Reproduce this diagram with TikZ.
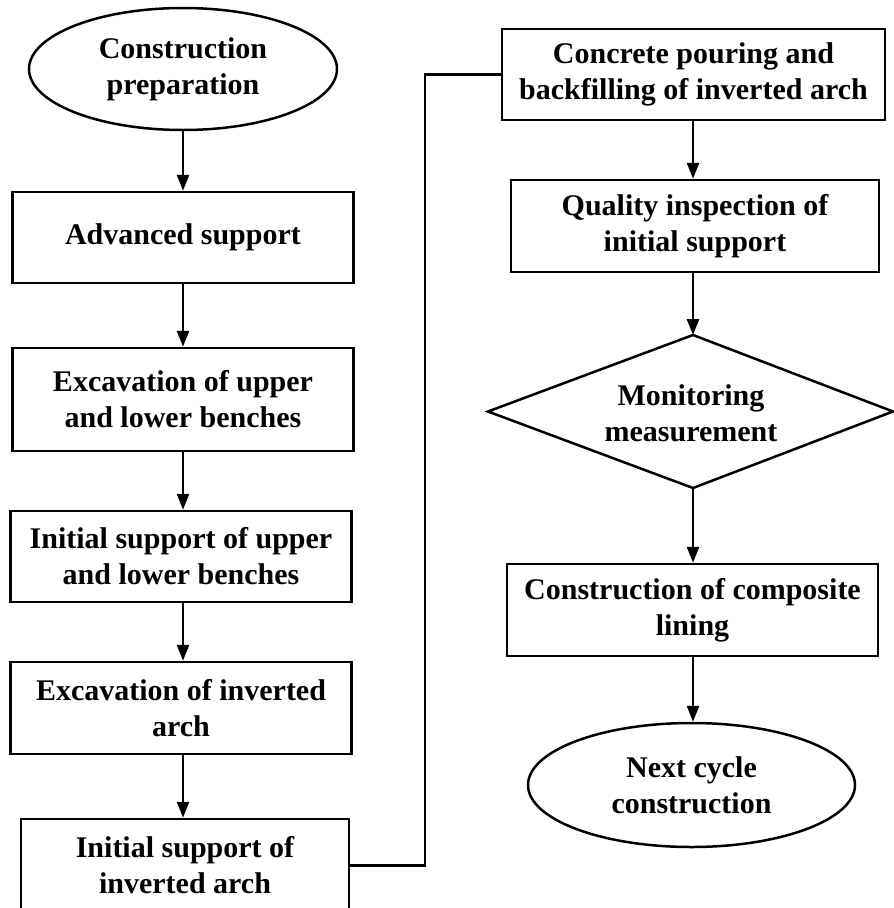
\documentclass[tikz,border=0pt]{standalone}
\usepackage{fontspec}
\setmainfont{Liberation Serif}
\usetikzlibrary{shapes.geometric,arrows.meta}
\begin{document}
\begin{tikzpicture}[x=1pt,y=-1pt,
  every node/.style={font=\bfseries\fontsize{30}{36}\selectfont, align=center, inner sep=0pt, line width=2.5pt},
  procbox/.style={rectangle, draw},
  termell/.style={ellipse, draw},
  conn/.style={line width=2.5pt, -{Triangle[length=16pt,width=12pt]}},
  plainconn/.style={line width=2.5pt}]
\useasboundingbox (0,0) rectangle (894,908);
% left column
\node[termell, minimum width=308pt, minimum height=122pt] (s) at (183,69) {Construction\\preparation};
\node[procbox, minimum width=341pt, minimum height=91pt] (a) at (183,237.5) {Advanced support};
\node[procbox, minimum width=341pt, minimum height=103pt] (b) at (183,399.5) {Excavation of upper\\and lower benches};
\node[procbox, minimum width=341pt, minimum height=91pt] (c) at (181,556.5) {Initial support of upper\\and lower benches};
\node[procbox, minimum width=341pt, minimum height=92pt] (d) at (181,708) {Excavation of inverted\\arch};
\node[procbox, minimum width=328pt, minimum height=93pt] (e) at (185,865.5) {Initial support of\\inverted arch};
% right column
\node[procbox, minimum width=383pt, minimum height=91pt] (f) at (693.5,74.5) {Concrete pouring and\\backfilling of inverted arch};
\node[procbox, minimum width=368pt, minimum height=92pt] (g) at (695,226) {Quality inspection of\\initial support};
\node (m) at (691,413) {Monitoring\\measurement};
\coordinate (mt) at (693,335);
\coordinate (mb) at (693,488);
\coordinate (ml) at (488,411.5);
\coordinate (mr) at (893,411.5);
\draw[line width=2.5pt, line join=miter] (mt) -- (mr) -- (mb) -- (ml) -- cycle;
\node[procbox, minimum width=371pt, minimum height=92pt] (h) at (692.5,610) {Construction of composite\\lining};
\node[termell, minimum width=327pt, minimum height=124pt] (n) at (691.5,785) {Next cycle\\construction};
\coordinate (turn) at (425,0);
\coordinate (fs) at (693,0);
% connectors
\draw[conn] (s.south) -- (s.south |- a.north);
\draw[conn] (a.south) -- (a.south |- b.north);
\draw[conn] (b.south) -- (b.south |- c.north);
\draw[conn] (b.south |- c.south) -- (b.south |- d.north);
\draw[conn] (b.south |- d.south) -- (b.south |- e.north);
\draw[plainconn] (e.east) -- (e.east -| turn) |- (f.west);
\draw[conn] (fs |- f.south) -- (fs |- g.north);
\draw[conn] (fs |- g.south) -- (mt);
\draw[conn] (mb) -- (fs |- h.north);
\draw[conn] (fs |- h.south) -- (fs |- n.north);
\end{tikzpicture}
\end{document}
